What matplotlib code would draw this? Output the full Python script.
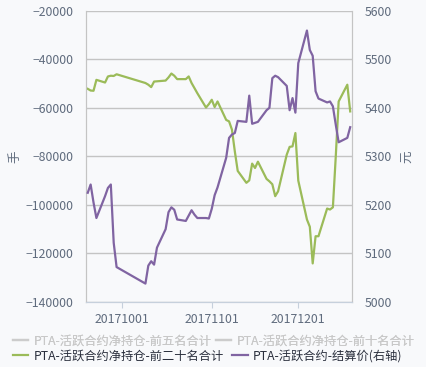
import numpy as np
import pandas as pd
import matplotlib
matplotlib.use("Agg")
import matplotlib.pyplot as plt
import matplotlib.dates as mdates
from matplotlib.lines import Line2D

plt.rcParams['font.family'] = ['Noto Sans CJK SC', 'DejaVu Sans']

# ---------------- Data ----------------

dates = pd.to_datetime([
    "2017-09-19", "2017-09-20", "2017-09-21", "2017-09-22", "2017-09-25",
    "2017-09-26", "2017-09-27", "2017-09-28", "2017-09-29",
    "2017-10-09", "2017-10-10", "2017-10-11", "2017-10-12", "2017-10-13",
    "2017-10-16", "2017-10-17", "2017-10-18", "2017-10-19", "2017-10-20",
    "2017-10-23", "2017-10-24", "2017-10-25", "2017-10-26", "2017-10-27",
    "2017-10-30", "2017-10-31",
    "2017-11-01", "2017-11-02", "2017-11-03", "2017-11-06", "2017-11-07",
    "2017-11-08", "2017-11-09", "2017-11-10", "2017-11-13", "2017-11-14",
    "2017-11-15", "2017-11-16", "2017-11-17", "2017-11-20", "2017-11-21",
    "2017-11-22", "2017-11-23", "2017-11-24", "2017-11-27", "2017-11-28",
    "2017-11-29", "2017-11-30",
    "2017-12-01", "2017-12-04", "2017-12-05", "2017-12-06", "2017-12-07",
    "2017-12-08", "2017-12-11", "2017-12-12", "2017-12-13", "2017-12-14",
    "2017-12-15", "2017-12-18", "2017-12-19",
])

# 前二十名合计 net position (left axis, 手)
top20_net = [
    -52200, -52900, -53000, -48500, -49600,
    -47100, -46800, -46900, -46200,
    -49800, -50500, -51500, -49200, -49100,
    -48800, -47500, -45900, -46800, -48200,
    -48200, -47100, -49800, -51900, -54000,
    -59900, -58500,
    -56700, -59700, -57400, -65000, -65600,
    -69000, -78000, -86000, -90900, -89900,
    -83000, -84800, -82200, -89300, -90300,
    -91500, -96400, -94400, -79300, -76100,
    -75900, -70400,
    -90000, -106000, -109000, -124100, -112900,
    -112900, -101500, -101900, -101000, -80000,
    -57400, -50500, -61500,
]

# 结算价 (right axis, 元)
settle = [
    5225, 5242, 5205, 5173, 5218,
    5235, 5242, 5122, 5072,
    5038, 5075, 5084, 5077, 5112,
    5150, 5185, 5195, 5190, 5170,
    5167, 5178, 5189, 5180, 5173,
    5173, 5172,
    5192, 5220, 5236, 5297, 5338,
    5345, 5348, 5373, 5371, 5425,
    5367, 5369, 5371, 5395, 5400,
    5461, 5466, 5463, 5445, 5395,
    5420, 5390,
    5492, 5559, 5519, 5507, 5434,
    5419, 5411, 5413, 5403, 5365,
    5329, 5338, 5360,
]

legend_row1 = ["PTA-活跃合约净持仓-前五名合计", "PTA-活跃合约净持仓-前十名合计"]
legend_row2 = ["PTA-活跃合约净持仓-前二十名合计", "PTA-活跃合约-结算价(右轴)"]

# ---------------- Plot ----------------

bg = '#f8f9fb'
tick_col = '#5f6b7d'
green = '#9bbb59'
purple = '#8064a2'

fig = plt.figure(figsize=(4.26, 3.67), dpi=100, facecolor=bg)
ax = fig.add_axes([0.2026, 0.177, 0.6234, 0.794], facecolor=bg)
ax2 = ax.twinx()

ax.plot(dates, top20_net, color=green, lw=1.6, zorder=3)
ax2.plot(dates, settle, color=purple, lw=1.6, zorder=3)

ax.set_ylim(-140000, -20000)
ax.set_yticks(np.arange(-140000, -19999, 20000))
ax2.set_ylim(5000, 5600)
ax2.set_yticks(np.arange(5000, 5601, 100))

ax.set_xlim(pd.Timestamp("2017-09-18 12:00"), pd.Timestamp("2017-12-19 14:00"))
ax.set_xticks(pd.to_datetime(["2017-10-01", "2017-11-01", "2017-12-01"]))
ax.xaxis.set_major_formatter(mdates.DateFormatter('%Y%m%d'))

ax.grid(axis='y', color='#c4c4c4', lw=1)
ax.set_axisbelow(True)

for a in (ax, ax2):
    a.spines['top'].set_visible(False)
    a.spines['left'].set_color('#c4c4c4')
    a.spines['right'].set_color('#c4c4c4')
    a.spines['bottom'].set_color('#c6d0dc')

ax.tick_params(axis='y', length=0, pad=9, labelsize=8.8, labelcolor=tick_col)
ax2.tick_params(axis='y', length=0, pad=9, labelsize=8.8, labelcolor=tick_col)
ax.tick_params(axis='x', length=4, color='#c6d0dc', pad=4, labelsize=8.8,
               labelcolor=tick_col)

# axis unit labels
fig.text(0.035, 0.572, '手', rotation=90, color=tick_col, fontsize=9,
         ha='center', va='center')
fig.text(0.958, 0.572, '元', rotation=90, color=tick_col, fontsize=9,
         ha='center', va='center')

# legend: two rows, first row are hidden series (gray)
h1 = [Line2D([], [], color='#cccccc', lw=1.6) for _ in legend_row1]
h2 = [Line2D([], [], color=green, lw=1.6), Line2D([], [], color=purple, lw=1.6)]
lg1 = fig.legend(h1, legend_row1, loc='center left', bbox_to_anchor=(0.03, 0.071),
                 ncol=2, frameon=False, fontsize=8.8, handlelength=1.25,
                 handletextpad=0.45, columnspacing=0.35, borderaxespad=0, borderpad=0)
for t in lg1.get_texts():
    t.set_color('#c8c8c8')
lg2 = fig.legend(h2, legend_row2, loc='center left', bbox_to_anchor=(0.03, 0.030),
                 ncol=2, frameon=False, fontsize=8.8, handlelength=1.25,
                 handletextpad=0.45, columnspacing=0.7, borderaxespad=0, borderpad=0)
for t in lg2.get_texts():
    t.set_color('#2a2f3d')
fig.add_artist(lg1)

fig.savefig('out.png', dpi=100, facecolor=bg)
